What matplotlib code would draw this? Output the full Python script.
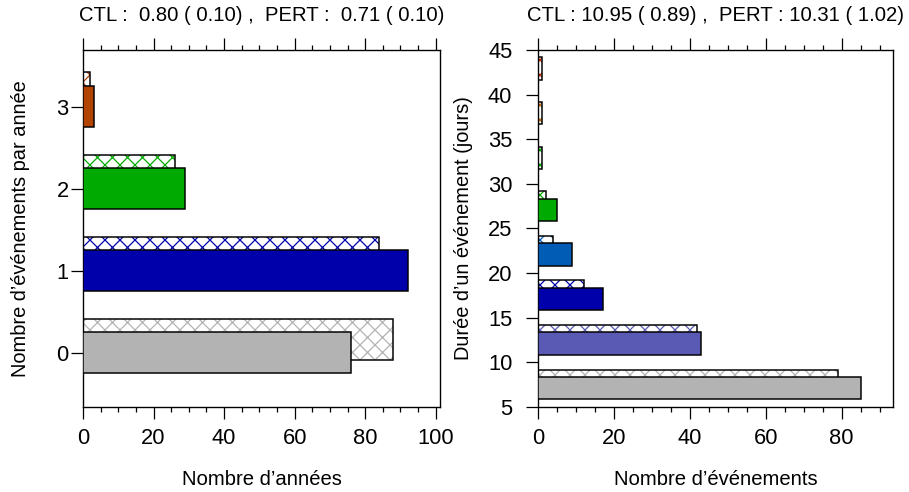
import matplotlib.pyplot as plt
import numpy as np

plt.rcParams['font.family'] = ['Liberation Sans', 'DejaVu Sans']
plt.rcParams['hatch.linewidth'] = 1.0

# left panel: number of events per year
n_events = [0, 1, 2, 3]
years_ctl = [76, 92, 29, 3]
years_pert = [88, 84, 26, 2]
colors_left = ['#b3b3b3', '#0000aa', '#00aa00', '#b34400']
title_left = 'CTL :  0.80 ( 0.10) ,  PERT :  0.71 ( 0.10)'

# right panel: event duration (days), 5-day bins
dur_lo = [5, 10, 15, 20, 25, 30, 35, 40]
events_ctl = [85, 43, 17, 9, 5, 0, 0, 0]
events_pert = [79, 42, 12, 4, 2, 1, 1, 1]
colors_right = ['#b3b3b3', '#5a5ab4', '#0000aa', '#005cb4', '#00aa00',
                '#00aa00', '#c06a00', '#c02a00']
title_right = 'CTL : 10.95 ( 0.89) ,  PERT : 10.31 ( 1.02)'

DPI = 90
fig = plt.figure(figsize=(909 / DPI, 492 / DPI), dpi=DPI)
W, H = 909, 492


def box(x0, x1, y0, y1):
    return [x0 / W, (H - y1) / H, (x1 - x0) / W, (y1 - y0) / H]


ax1 = fig.add_axes(box(83, 440, 50, 407))
ax2 = fig.add_axes(box(538, 893, 50, 407))


def draw_bars(ax, ypos, ctl, pert, cols, h, off_ctl, off_pert):
    for y, c, p, col in zip(ypos, ctl, pert, cols):
        # hatched PERT bar behind
        ax.barh(y + off_pert, p, height=h, color='white', edgecolor=col,
                hatch='xx', linewidth=0, zorder=2)
        ax.barh(y + off_pert, p, height=h, fill=False, edgecolor='black',
                linewidth=1.2, zorder=3)
        # solid CTL bar in front
        if c > 0:
            ax.barh(y + off_ctl, c, height=h, color=col, edgecolor='black',
                    linewidth=1.2, zorder=4)


draw_bars(ax1, n_events, years_ctl, years_pert, colors_left, 0.5, 0.0, 0.166)
draw_bars(ax2, dur_lo, events_ctl, events_pert, colors_right, 2.5, 2.1, 2.93)

ax1.set_xlim(0, max(years_ctl) * 1.1)
ax1.set_ylim(-0.66, 3.69)
ax1.set_xticks(np.arange(0, 101, 20))
ax1.set_xticks(np.arange(0, 101, 5), minor=True)
ax1.set_yticks(n_events)

ax2.set_xlim(0, max(events_ctl) * 1.1)
ax2.set_ylim(5, 45)
ax2.set_xticks(np.arange(0, 81, 20))
ax2.set_xticks(np.arange(0, 91, 5), minor=True)
ax2.set_yticks(np.arange(5, 46, 5))

for ax in (ax1, ax2):
    for s in ax.spines.values():
        s.set_linewidth(1.1)
    ax.tick_params(axis='x', which='both', direction='out', top=True,
                   bottom=True, labeltop=False, width=1.0)
    ax.tick_params(axis='x', which='major', length=9.5, labelsize=17.5, pad=7)
    ax.tick_params(axis='x', which='minor', length=4)
    ax.tick_params(axis='y', which='major', direction='out', length=9.5,
                   width=1.0, labelsize=17.5, right=False)

ax1.tick_params(axis='y', pad=2)
ax2.tick_params(axis='y', pad=11)

ax1.set_xlabel('Nombre d’années', fontsize=16.2)
ax1.set_ylabel('Nombre d’événements par année', fontsize=16)
ax2.set_xlabel('Nombre d’événements', fontsize=16.2)
ax2.set_ylabel('Durée d’un événement (jours)', fontsize=16)
ax1.xaxis.set_label_coords(0.5, -0.176)
ax2.xaxis.set_label_coords(0.5, -0.176)
ax1.yaxis.set_label_coords(-0.149, 0.5)
ax2.yaxis.set_label_coords(-0.182, 0.5)

ax1.set_title(title_left, fontsize=16.2, pad=23.5)
ax2.set_title(title_right, fontsize=16.2, pad=23.5)

fig.savefig('out.png', dpi=DPI)
